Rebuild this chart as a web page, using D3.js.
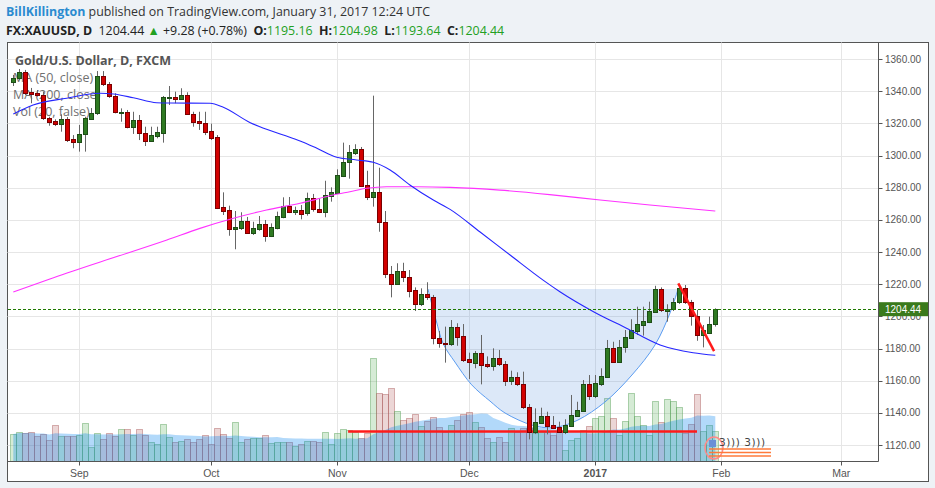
<!DOCTYPE html>
<html><head><meta charset="utf-8">
<script src="https://cdn.jsdelivr.net/npm/d3@7"></script>
<style>
html,body{margin:0;padding:0;background:#eef2f6;}
svg{display:block;}
</style></head><body>
<svg id="c" width="935" height="488"></svg>
<script>
// ---------------- DATA ----------------
const opens=[1345.5,1348.0,1351.7,1339.3,1338.7,1337.6,1323.1,1321.4,1319.4,1322.5,
1310.3,1308.2,1313.2,1322.7,1326.2,1349.4,1344.3,1337.2,1326.7,1326.9,
1317.9,1321.9,1313.8,1309.2,1312.3,1314.2,1336.1,1336.2,1335.3,1337.8,
1325.6,1321.4,1320.0,1315.2,1311.3,1268.0,1265.9,1254.1,1255.1,1259.3,
1252.0,1254.5,1257.4,1250.1,1255.1,1262.0,1268.6,1265.1,1266.1,1264.1,
1273.8,1266.9,1265.1,1275.0,1276.9,1287.4,1295.8,1301.7,1304.0,1281.7,
1274.4,1277.1,1258.5,1226.1,1220.3,1228.2,1224.3,1216.4,1207.5,1213.9,
1211.8,1186.3,1183.6,1182.6,1193.2,1187.8,1173.5,1171.2,1177.0,1170.4,
1169.3,1173.9,1170.2,1160.0,1162.1,1157.7,1143.4,1127.9,1133.9,1138.0,
1132.4,1131.2,1127.9,1132.0,1138.2,1141.3,1157.7,1150.5,1157.9,1162.5,
1180.1,1171.8,1180.7,1186.7,1191.1,1194.6,1196.7,1202.9,1217.0,1203.5,
1204.6,1208.7,1217.4,1208.7,1200.2,1188.2,1189.8,1195.16];
const highs=[1350.1,1353.8,1353.2,1342.0,1340.7,1339.7,1324.1,1322.5,1325.6,1323.9,
1312.7,1319.0,1324.1,1329.5,1352.5,1352.5,1345.7,1338.7,1329.3,1328.3,
1327.2,1325.2,1317.9,1317.9,1317.9,1337.0,1343.2,1339.7,1341.8,1339.3,
1327.2,1327.2,1327.2,1319.8,1312.7,1277.1,1268.8,1265.5,1264.7,1261.8,
1258.8,1262.4,1259.9,1257.8,1265.1,1274.0,1274.2,1268.2,1269.2,1276.9,
1276.1,1273.4,1284.3,1280.2,1291.4,1308.0,1306.5,1307.0,1305.3,1290.5,
1337.2,1292.4,1265.5,1231.3,1233.0,1233.3,1228.8,1218.0,1217.4,1221.2,
1213.3,1190.9,1193.6,1197.7,1195.7,1195.2,1177.4,1178.4,1188.4,1175.1,
1180.1,1179.1,1172.2,1166.2,1165.2,1165.6,1145.5,1142.8,1143.2,1140.7,
1138.0,1134.5,1136.0,1151.1,1146.9,1160.4,1163.5,1163.5,1167.7,1185.3,
1184.2,1185.3,1191.5,1198.2,1206.0,1206.0,1209.1,1219.0,1218.0,1207.5,
1211.4,1219.5,1219.5,1210.2,1204.0,1194.6,1199.8,1204.98];
const lows=[1343.2,1346.9,1337.6,1332.5,1336.6,1322.1,1318.5,1318.3,1314.8,1308.4,
1304.5,1302.4,1302.4,1322.1,1325.2,1343.2,1335.8,1326.2,1321.0,1316.9,
1313.4,1309.6,1305.9,1308.6,1310.7,1308.0,1331.4,1332.5,1334.9,1325.2,
1317.9,1315.9,1312.7,1309.6,1266.7,1263.0,1250.1,1241.7,1253.7,1251.2,
1250.6,1253.2,1246.4,1249.3,1254.1,1261.0,1264.2,1263.0,1260.3,1262.6,
1265.1,1264.2,1261.6,1271.3,1276.1,1286.6,1285.6,1300.3,1280.4,1272.3,
1268.2,1252.6,1223.8,1211.8,1219.5,1221.3,1211.8,1203.3,1206.4,1210.2,
1182.6,1180.5,1171.2,1181.6,1181.7,1171.6,1161.0,1167.7,1157.7,1167.9,
1166.2,1169.1,1156.7,1157.3,1156.7,1142.4,1123.5,1126.8,1133.1,1126.6,
1129.9,1127.5,1126.8,1131.2,1137.4,1140.5,1148.0,1149.2,1156.7,1161.7,
1171.0,1171.0,1177.4,1185.9,1188.4,1188.0,1195.8,1202.1,1202.7,1196.7,
1203.3,1207.7,1207.7,1194.2,1184.8,1180.7,1189.0,1193.64];
const closes=[1348.0,1351.7,1339.0,1338.2,1337.4,1323.1,1321.0,1319.4,1322.5,1309.6,
1308.2,1313.4,1323.1,1326.2,1349.4,1344.3,1337.2,1326.9,1327.0,1317.9,
1321.9,1313.8,1309.2,1312.6,1314.6,1336.2,1336.3,1335.3,1337.8,1325.6,
1321.0,1320.0,1314.8,1311.1,1267.5,1265.7,1254.1,1255.5,1259.3,1252.0,
1254.9,1257.4,1250.1,1255.5,1262.4,1268.6,1265.1,1266.1,1263.8,1273.8,
1266.5,1265.1,1275.4,1277.3,1287.9,1296.0,1302.2,1304.0,1281.2,1274.4,
1277.1,1258.5,1226.1,1220.3,1228.2,1224.3,1215.9,1207.5,1213.9,1211.8,
1186.3,1183.2,1182.6,1193.2,1187.3,1172.8,1171.4,1177.0,1169.9,1169.3,
1173.9,1170.2,1160.0,1162.1,1157.7,1143.4,1127.9,1134.1,1138.0,1132.0,
1130.7,1128.3,1132.4,1138.6,1141.8,1157.7,1150.5,1158.4,1162.9,1180.1,
1171.8,1180.7,1186.9,1191.5,1195.0,1197.1,1203.3,1217.0,1203.9,1204.6,
1208.7,1217.4,1208.7,1200.2,1188.2,1191.5,1195.16,1204.44];
const volumes=[27,29,28,29,25,27,21,36,25,25,
25,26,38,14,28,22,28,25,32,32,
26,32,26,19,17,37,24,19,20,22,
19,22,26,17,33,27,23,39,19,22,
23,23,26,18,19,19,19,15,17,20,
20,19,29,17,28,32,31,29,23,28,
103,68,67,73,50,41,43,47,35,40,
44,34,29,36,41,47,49,39,34,23,
19,24,19,33,29,33,33,28,29,29,
26,30,11,21,23,31,35,43,45,63,
43,26,40,68,45,36,26,60,39,62,
60,54,28,37,67,30,36,30];
// moving averages: [bar index, price]
const ma50Points=[[0,1325.8],[3.3,1331.4],[8.9,1335.6],[14.5,1338.7],[16.7,1338.2],[20,1335.9],[23.9,1332.8],[26.1,1332.6],[32.8,1332.5],[35,1330.0],[39.5,1320.4],[41.1,1317.9],[45,1312.7],[47.8,1309.0],[50.6,1304.5],[53.9,1298.9],[57.2,1297.2],[60,1295.8],[62.8,1291.0],[66.1,1281.7],[70,1272.3],[72.8,1266.5],[77.8,1252.4],[82.8,1238.1],[88.3,1222.5],[91.1,1215.3],[96.7,1202.9],[102.2,1192.6],[107.8,1182.2],[113.3,1177.4],[117,1175.8]];
const ma200Points=[[0,1215.1],[6.1,1223.2],[14.5,1233.8],[25.6,1247.5],[31.1,1254.7],[36.7,1261.0],[42.2,1266.1],[47.8,1270.3],[53.3,1275.4],[56.1,1277.5],[58.9,1279.6],[62.2,1280.6],[67.2,1280.6],[72.8,1280.2],[81.1,1278.5],[89.4,1275.7],[97.8,1272.3],[106.1,1269.2],[117,1265.5]];
// drawings
const cupArc=[[69.1,1217],[70.45,1197.8],[71.67,1182.8],[73.6,1171.6],[76.4,1157.4],[79.45,1147.3],[81.95,1139.9],[86.4,1132.4],[89.45,1130.6],[90.8,1131.2],[94.1,1135.5],[98.6,1146.7],[103.1,1163.5],[106.95,1182.2],[109.45,1202.1],[110.8,1217]];
const supportLine=[[55.8,1128.4],[113.95,1128.4]];
const trendLine=[[110.83,1220.5],[116.8,1178.4]];
const lastPrice=1204.44;
const priceTicks=[1120,1140,1160,1180,1200,1220,1240,1260,1280,1300,1320,1340,1360];
const monthKeys=["2016-09","2016-10","2016-11","2016-12","2017-01","2017-02","2017-03"];
const monthLabels=["Sep","Oct","Nov","Dec","2017","Feb","Mar"];
const holidays=["2016-12-26","2017-01-02"];

// trading calendar
const dates=[];
for(let d=new Date(Date.UTC(2016,7,17)); d<=new Date(Date.UTC(2017,2,10)); d=new Date(d.getTime()+864e5)){
  const wd=d.getUTCDay(); const s=d.toISOString().slice(0,10);
  if(wd===0||wd===6||holidays.includes(s)) continue;
  dates.push(s);
}
const bars=opens.map((o,i)=>({i,date:dates[i],o,h:highs[i],l:lows[i],c:closes[i],v:volumes[i]}));
const monthIdx=monthKeys.map(k=>dates.findIndex(s=>s.startsWith(k)));

// ---------------- LAYOUT ----------------
const svg=d3.select("#c");
const P={l:7.5,r:878.5,t:42.5,b:461.5};
const x=d3.scaleLinear().domain([0,117]).range([13.3,715.3]);
const y=d3.scaleLinear().domain([1120,1360]).range([445,59]);
const yv=d3.scaleLinear().domain([0,100]).range([461,361]);
const px=v=>Math.round(v)+0.5;

// frame
svg.append("rect").attr("x",7.5).attr("y",42.5).attr("width",921).attr("height",439).attr("fill","#fff").attr("stroke","#555");
svg.append("defs").append("clipPath").attr("id","pc").append("rect").attr("x",P.l).attr("y",P.t).attr("width",P.r-P.l).attr("height",P.b-P.t);

// grid
const grid=svg.append("g").attr("stroke","#e6e6e6").attr("stroke-width",1);
priceTicks.forEach(t=>grid.append("line").attr("x1",P.l).attr("x2",P.r).attr("y1",px(y(t))).attr("y2",px(y(t))));
monthIdx.forEach(m=>grid.append("line").attr("y1",P.t).attr("y2",P.b).attr("x1",px(x(m))).attr("x2",px(x(m))));

// header
const h1=svg.append("text").attr("x",6).attr("y",16).attr("font-family","'Open Sans',sans-serif").attr("font-size",12.4);
h1.append("tspan").attr("font-weight","bold").attr("fill","#2a8bd0").text("BillKillington");
h1.append("tspan").attr("fill","#333").text(" published on TradingView.com, January 31, 2017 12:24 UTC");
const g2=svg.append("text").attr("x",6).attr("y",34.5).attr("font-family","'Open Sans',sans-serif").attr("font-size",12.4).attr("fill","#222");
const green="#22a022";
const parts=[["FX:XAUUSD, D","bold","#222"],["  1204.44 ","normal","#222"],["▲","normal",green],[" +9.28 (+0.78%)  ","normal","#222"],["O:","bold","#222"],["1195.16","normal",green],["  H:","bold","#222"],["1204.98","normal",green],["  L:","bold","#222"],["1193.64","normal",green],["  C:","bold","#222"],["1204.44","normal",green]];
parts.forEach(p=>g2.append("tspan").attr("font-weight",p[1]).attr("fill",p[2]).attr("xml:space","preserve").style("white-space","pre").text(p[0]));

// legend (under the marks)
const lg=svg.append("g").attr("font-family","'Open Sans',sans-serif").attr("font-size",12.5);
lg.append("text").attr("x",15).attr("y",65).attr("font-weight","bold").attr("fill","#555").text("Gold/U.S. Dollar, D, FXCM");
[["MA (50, close)",82],["MA (200, close)",99],["Vol (20, false)",116]].forEach(d=>lg.append("text").attr("x",13).attr("y",d[1]).attr("fill","#707070").text(d[0]));

const plot=svg.append("g").attr("clip-path","url(#pc)");

// volume
const vg=plot.append("g");
vg.selectAll("rect").data(bars).join("rect")
  .attr("x",d=>px(x(d.i))-3).attr("width",6)
  .attr("y",d=>Math.round(yv(d.v))+0.5).attr("height",d=>yv(0)-Math.round(yv(d.v)))
  .attr("fill",d=>d.c>=d.o?"rgba(87,175,87,0.25)":"rgba(180,90,90,0.25)")
  .attr("stroke",d=>d.c>=d.o?"rgba(87,160,87,0.45)":"rgba(170,90,90,0.45)");
const volMA=bars.map((d,i)=>d3.mean(volumes.slice(Math.max(0,i-19),i+1)));
plot.append("path").datum(bars)
  .attr("d",d3.area().x(d=>x(d.i)).y0(yv(0)).y1(d=>yv(volMA[d.i])))
  .attr("fill","rgba(0,128,238,0.3)");

// cup
plot.append("path").datum(cupArc)
  .attr("d",d3.line().x(d=>x(d[0])).y(d=>y(d[1])).curve(d3.curveCatmullRom)(cupArc)+"Z")
  .attr("fill","rgba(80,140,220,0.2)");
plot.append("path").datum(cupArc)
  .attr("d",d3.line().x(d=>x(d[0])).y(d=>y(d[1])).curve(d3.curveCatmullRom))
  .attr("fill","none").attr("stroke","#5b9cf0").attr("stroke-width",1);

// support line
plot.append("line").attr("x1",x(supportLine[0][0])).attr("x2",x(supportLine[1][0]))
  .attr("y1",y(supportLine[0][1])).attr("y2",y(supportLine[1][1]))
  .attr("stroke","#ff1a1a").attr("stroke-width",2.5);

// candles
const cg=plot.append("g");
cg.selectAll("line").data(bars).join("line")
  .attr("x1",d=>px(x(d.i))).attr("x2",d=>px(x(d.i)))
  .attr("y1",d=>y(d.h)).attr("y2",d=>y(d.l)).attr("stroke","#666");
cg.selectAll("rect").data(bars).join("rect")
  .attr("x",d=>px(x(d.i))-2).attr("width",4)
  .attr("y",d=>Math.round(y(Math.max(d.o,d.c)))+0.5)
  .attr("height",d=>Math.max(1,Math.round(y(Math.min(d.o,d.c)))-Math.round(y(Math.max(d.o,d.c)))))
  .attr("fill",d=>d.c>=d.o?"#2f7a22":"#d20000")
  .attr("stroke",d=>d.c>=d.o?"#1e4d17":"#7a0000");

// MAs
const ml=d3.line().x(d=>x(d[0])).y(d=>y(d[1])).curve(d3.curveMonotoneX);
plot.append("path").attr("d",ml(ma200Points)).attr("fill","none").attr("stroke","#ff33ff").attr("stroke-width",1.1);
plot.append("path").attr("d",ml(ma50Points)).attr("fill","none").attr("stroke","#2626ff").attr("stroke-width",1.1);

// trend line
plot.append("line").attr("x1",x(trendLine[0][0])).attr("x2",x(trendLine[1][0]))
  .attr("y1",y(trendLine[0][1])).attr("y2",y(trendLine[1][1]))
  .attr("stroke","#ff1a1a").attr("stroke-width",2.5);

// last price line
plot.append("line").attr("x1",P.l).attr("x2",P.r).attr("y1",Math.round(y(lastPrice))).attr("y2",Math.round(y(lastPrice)))
  .attr("stroke","#1f7a00").attr("stroke-width",1).attr("stroke-dasharray","3,2").attr("shape-rendering","crispEdges");

// logo (decoration)
const lo=svg.append("g");
lo.append("ellipse").attr("cx",714).attr("cy",448).attr("rx",9).attr("ry",11).attr("fill","none").attr("stroke","#ff8a8a").attr("stroke-width",1.5);
lo.append("rect").attr("x",709).attr("y",440).attr("width",7).attr("height",7).attr("fill","#6b8fd6");
[449,452.5,456].forEach(v=>lo.append("line").attr("x1",709).attr("x2",771).attr("y1",v).attr("y2",v).attr("stroke","#ff7a3a").attr("stroke-width",1.3));
lo.append("text").attr("x",719).attr("y",446).attr("font-family","'DejaVu Sans',sans-serif").attr("font-size",10.5).attr("letter-spacing",0.6).attr("fill","#444").text("3))) 3)))");

// axes lines
svg.append("line").attr("x1",P.r).attr("x2",P.r).attr("y1",P.t).attr("y2",P.b).attr("stroke","#555");
svg.append("line").attr("x1",P.l).attr("x2",P.r).attr("y1",P.b).attr("y2",P.b).attr("stroke","#555");

// right axis
const ra=svg.append("g").attr("font-family","'Liberation Sans',Arial,sans-serif").attr("font-size",10).attr("fill","#555");
priceTicks.forEach(t=>{
  ra.append("line").attr("x1",P.r).attr("x2",P.r+4).attr("y1",px(y(t))).attr("y2",px(y(t))).attr("stroke","#555");
  ra.append("text").attr("x",885).attr("y",y(t)).attr("dy","0.35em").text(t.toFixed(2));
});
ra.append("rect").attr("x",879).attr("y",y(lastPrice)-7).attr("width",49).attr("height",14).attr("fill","#3a7a1c");
ra.append("text").attr("x",885).attr("y",y(lastPrice)).attr("dy","0.36em").attr("fill","#fff").text(lastPrice.toFixed(2));

// bottom axis
const ba=svg.append("g").attr("font-family","'Liberation Sans',Arial,sans-serif").attr("font-size",10.5).attr("fill","#555").attr("text-anchor","middle");
monthIdx.forEach((m,k)=>{
  ba.append("line").attr("x1",px(x(m))).attr("x2",px(x(m))).attr("y1",P.b).attr("y2",P.b+4).attr("stroke","#555");
  ba.append("text").attr("x",x(m)).attr("y",477).attr("font-weight",monthLabels[k]==="2017"?"bold":"normal").text(monthLabels[k]);
});
</script>
</body></html>
